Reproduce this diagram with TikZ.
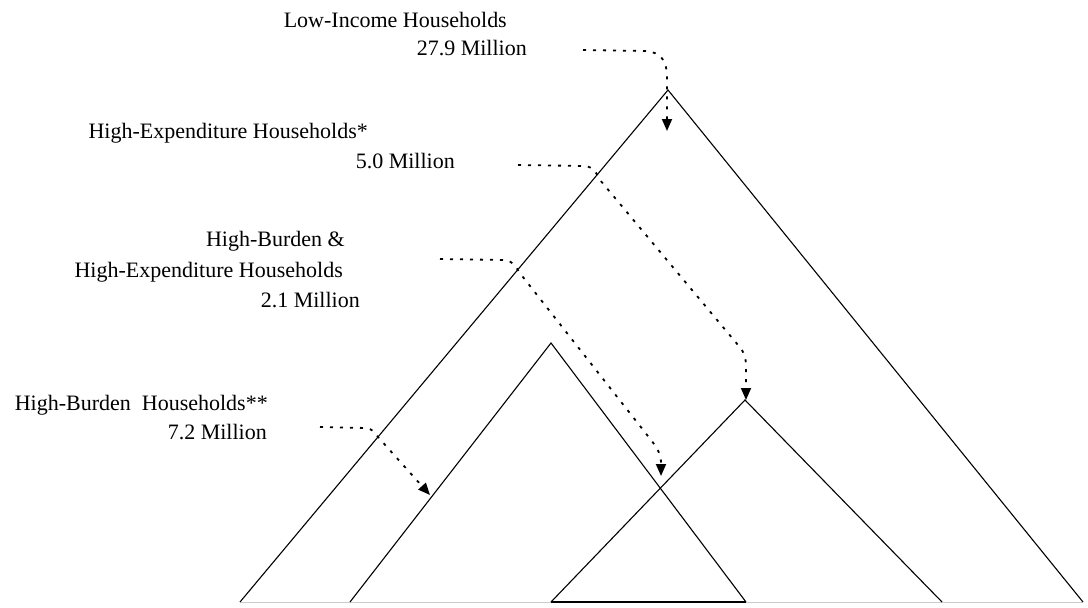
\documentclass[tikz,border=0pt]{standalone}
\usepackage{fontspec}
\setmainfont{Liberation Serif}
\usetikzlibrary{arrows.meta}
\begin{document}
\begin{tikzpicture}[x=1pt,y=-1pt,
  tri/.style={line width=1.1pt, line join=miter},
  lbl/.style={font=\fontsize{22}{26}\selectfont, inner sep=0pt, anchor=base east},
  ptr/.style={line width=1.8pt, dash pattern=on 3pt off 7pt, -{Triangle[length=12pt,width=10pt]}},
]
\useasboundingbox (0,0) rectangle (1088,608);
% triangle corners
\coordinate (T) at (668,90);
\coordinate (TL) at (240,602);
\coordinate (TR) at (1083,602);
\coordinate (HBa) at (551,343);
\coordinate (HBl) at (350,602);
\coordinate (HBr) at (746,602);
\coordinate (HEa) at (745,400);
\coordinate (HEl) at (551,602);
\coordinate (HEr) at (942,602);
% faint base
\draw[gray!40, line width=0.8pt] (TL) -- (TR);
% triangles
\draw[tri] (TL) -- (T) -- (TR);
\draw[tri] (HBl) -- (HBa) -- (HBr);
\draw[tri] (HEl) -- (HEa) -- (HEr);
\draw[tri] (HEl) -- (HBr);
% labels
\node[lbl] (li1) at (507,27) {Low-Income Households};
\node[lbl] (li2) at (527,55) {27.9 Million};
\node[lbl] (he1) at (368,138) {High-Expenditure Households*};
\node[lbl] (he2) at (455,168) {5.0 Million};
\node[lbl] (bh1) at (345,246) {High-Burden \&};
\node[lbl] (bh2) at (343,277) {High-Expenditure Households};
\node[lbl] (bh3) at (360,307) {2.1 Million};
\node[lbl] (hb1) at (268,410) {High-Burden\ \ Households**};
\node[lbl] (hb2) at (267,439) {7.2 Million};
% connector ends
\coordinate (sA) at (583,50);
\coordinate (tA) at (667,131);
\coordinate (sB) at (518,165);
\coordinate (tB) at (746,400);
\coordinate (sC) at (440,259);
\coordinate (tC) at (661,476);
\coordinate (sD) at (320,427);
\coordinate (tD) at (430,495);
% connectors
\draw[ptr] (sA) -- (645,51) .. controls (662,52) and (667,62) .. (667,78) -- (tA);
\draw[ptr] (sB) -- (585,166) .. controls (593,167) and (596,172) .. (600,180) -- (738,345) .. controls (745,353) and (746,358) .. (746,368) -- (tB);
\draw[ptr] (sC) -- (505,260) .. controls (512,261) and (515,265) .. (519,272) -- (651,440) .. controls (658,449) and (661,455) .. (661,463) -- (tC);
\draw[ptr] (sD) -- (366,428) .. controls (372,429) and (375,432) .. (378,437) -- (tD);
\end{tikzpicture}
\end{document}
